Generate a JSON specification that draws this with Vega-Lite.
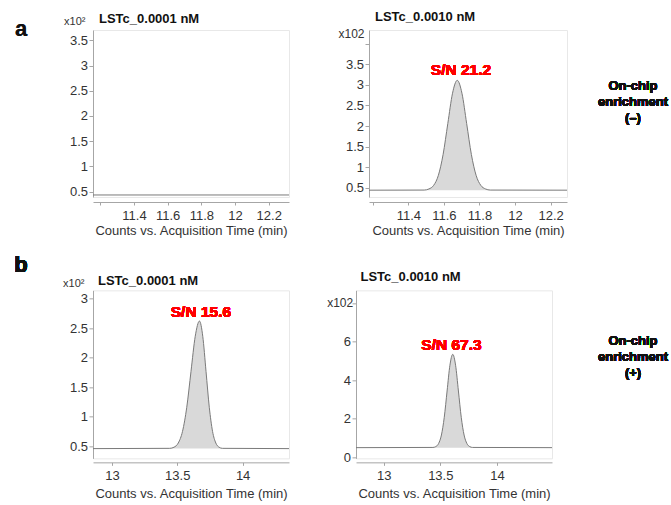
{
  "$schema": "https://vega.github.io/schema/vega-lite/v6.json",
  "padding": {"left": 13, "top": 10, "right": 2, "bottom": 2},
  "spacing": 15.35,
  "config": {
    "font": "Liberation Sans",
    "view": {"stroke": "#e8e8e8"},
    "axis": {
      "grid": false,
      "domainColor": "#a6a6a6",
      "tickColor": "#a6a6a6",
      "labelColor": "#333333",
      "titleColor": "#333333",
      "labelFontSize": 13,
      "titleFontSize": 13,
      "titleFontWeight": "normal",
      "labelFlush": false,
      "labelOverlap": false,
      "labelFont": "Liberation Sans",
      "titleFont": "Liberation Sans"
    },
    "axisX": {"tickSize": 3, "labelPadding": 4.3, "titlePadding": 2.2},
    "axisY": {"tickSize": 4, "labelPadding": 1.5},
    "title": {"fontSize": 13, "fontWeight": "bold", "anchor": "start", "frame": "group", "color": "#111111", "font": "Liberation Sans"},
    "text": {"font": "Liberation Sans"}
  },
  "vconcat": [
    {
      "hconcat": [
        {
          "width": 196,
          "height": 167,
          "title": {"text": "LSTc_0.0001 nM", "offset": -10.25, "dx": 6},
          "data": {"values": [{"t": 11.157, "c": 0.435}, {"t": 12.32, "c": 0.435}]},
          "encoding": {
            "x": {"field": "t", "type": "quantitative", "title": "Counts vs. Acquisition Time (min)",
              "scale": {"domain": [11.157, 12.32], "nice": false, "zero": false},
              "axis": {"values": [11.2, 11.4, 11.6, 11.8, 12, 12.2], "labelExpr": "datum.value < 11.3 ? '' : '' + datum.value", "offset": 5}},
            "y": {"field": "c", "type": "quantitative", "title": "x10²",
              "scale": {"domain": [0.395, 3.704], "nice": false, "zero": false},
              "axis": {"values": [0.5, 1, 1.5, 2, 2.5, 3, 3.5], "labelExpr": "'' + datum.value", "titleAngle": 0, "titleX": -8, "titleY": -8.1, "titleAlign": "right", "titleBaseline": "middle", "titleFontSize": 11}}
          },
          "layer": [
            {"mark": {"type": "area", "interpolate": "monotone", "fill": "#d9d9d9"}, "encoding": {"y2": {"datum": 0.435}}},
            {"mark": {"type": "line", "interpolate": "monotone", "stroke": "#7a7a7a", "strokeWidth": 1}},
            {"mark": {"type": "text", "fontSize": 22, "fontWeight": "bold", "fill": "#111111", "strokeOpacity": 0, "align": "center", "baseline": "alphabetic"},
              "encoding": {"x": {"datum": 10.73}, "y": {"datum": 3.585}, "text": {"value": "a"}}}
          ]
        },
        {
          "width": 198,
          "height": 167,
          "title": {"text": "LSTc_0.0010 nM", "offset": 3.05, "dx": 6},
          "data": {"values": [
            {"t": 11.179, "c": 0.44}, {"t": 11.4895, "c": 0.443}, {"t": 11.516, "c": 0.47}, {"t": 11.5425, "c": 0.557},
            {"t": 11.569, "c": 0.801}, {"t": 11.5955, "c": 1.307}, {"t": 11.622, "c": 2.059}, {"t": 11.6485, "c": 2.796},
            {"t": 11.675, "c": 3.11}, {"t": 11.7015, "c": 2.796}, {"t": 11.728, "c": 2.059}, {"t": 11.7545, "c": 1.307},
            {"t": 11.781, "c": 0.801}, {"t": 11.8075, "c": 0.557}, {"t": 11.834, "c": 0.47}, {"t": 11.8605, "c": 0.443},
            {"t": 12.292, "c": 0.44}
          ]},
          "encoding": {
            "x": {"field": "t", "type": "quantitative", "title": "Counts vs. Acquisition Time (min)",
              "scale": {"domain": [11.179, 12.292], "nice": false, "zero": false},
              "axis": {"values": [11.2, 11.4, 11.6, 11.8, 12, 12.2], "labelExpr": "datum.value < 11.3 ? '' : '' + datum.value", "offset": 5}},
            "y": {"field": "c", "type": "quantitative", "title": "x102",
              "scale": {"domain": [0.274, 4.334], "nice": false, "zero": false},
              "axis": {"values": [0.5, 1, 1.5, 2, 2.5, 3, 3.5, 4], "labelExpr": "datum.value > 3.9 ? '' : '' + datum.value", "titleAngle": 0, "titleX": -5, "titleY": 3, "titleAlign": "right", "titleBaseline": "middle", "titleFontSize": 12}}
          },
          "layer": [
            {"mark": {"type": "area", "interpolate": "monotone", "fill": "#d9d9d9"}, "encoding": {"y2": {"datum": 0.44}}},
            {"mark": {"type": "line", "interpolate": "monotone", "stroke": "#7a7a7a", "strokeWidth": 1}},
            {"mark": {"type": "text", "fontSize": 15.5, "fontWeight": "bold", "fill": "#ff0000", "strokeOpacity": 0, "align": "center", "baseline": "middle"},
              "encoding": {"x": {"datum": 11.696}, "y": {"datum": 3.359}, "text": {"value": "S/N 21.2"}}},
            {"mark": {"type": "text", "fontSize": 13, "fontWeight": "bold", "fill": "#111111", "strokeOpacity": 0, "align": "center", "baseline": "middle", "lineHeight": 16},
              "encoding": {"x": {"datum": 12.663}, "y": {"datum": 2.981}, "text": {"value": ["On-chip", "enrichment", "(–)"]}}}
          ]
        }
      ],
      "spacing": 80,
      "bounds": "flush"
    },
    {
      "hconcat": [
        {
          "width": 196,
          "height": 168,
          "title": {"text": "LSTc_0.0001 nM", "offset": -33.15, "dx": 5},
          "data": {"values": [
            {"t": 12.855, "c": 0.456}, {"t": 13.4425, "c": 0.461}, {"t": 13.475, "c": 0.48}, {"t": 13.5075, "c": 0.551},
            {"t": 13.54, "c": 0.748}, {"t": 13.5725, "c": 1.157}, {"t": 13.605, "c": 1.766}, {"t": 13.6375, "c": 2.362},
            {"t": 13.67, "c": 2.62}, {"t": 13.695, "c": 2.362}, {"t": 13.72, "c": 1.766}, {"t": 13.745, "c": 1.157},
            {"t": 13.77, "c": 0.748}, {"t": 13.795, "c": 0.551}, {"t": 13.82, "c": 0.48}, {"t": 13.845, "c": 0.461},
            {"t": 14.355, "c": 0.456}
          ]},
          "encoding": {
            "x": {"field": "t", "type": "quantitative", "title": "Counts vs. Acquisition Time (min)",
              "scale": {"domain": [12.855, 14.355], "nice": false, "zero": false},
              "axis": {"values": [13, 13.5, 14], "labelExpr": "'' + datum.value", "offset": 4, "titlePadding": 4.5}},
            "y": {"field": "c", "type": "quantitative", "title": "x10²",
              "scale": {"domain": [0.291, 3.141], "nice": false, "zero": false},
              "axis": {"values": [0.5, 1, 1.5, 2, 2.5, 3], "labelExpr": "'' + datum.value", "titleAngle": 0, "titleX": -9, "titleY": -7.1, "titleAlign": "right", "titleBaseline": "middle", "titleFontSize": 11}}
          },
          "layer": [
            {"mark": {"type": "area", "interpolate": "monotone", "fill": "#d9d9d9"}, "encoding": {"y2": {"datum": 0.456}}},
            {"mark": {"type": "line", "interpolate": "monotone", "stroke": "#7a7a7a", "strokeWidth": 1}},
            {"mark": {"type": "text", "fontSize": 15.5, "fontWeight": "bold", "fill": "#ff0000", "strokeOpacity": 0, "align": "center", "baseline": "middle"},
              "encoding": {"x": {"datum": 13.681}, "y": {"datum": 2.778}, "text": {"value": "S/N 15.6"}}},
            {"mark": {"type": "text", "fontSize": 22, "fontWeight": "bold", "fill": "#111111", "strokeOpacity": 0, "align": "center", "baseline": "alphabetic"},
              "encoding": {"x": {"datum": 12.304}, "y": {"datum": 3.446}, "text": {"value": "b"}}}
          ]
        },
        {
          "width": 196,
          "height": 168,
          "title": {"text": "LSTc_0.0010 nM", "offset": 6.85, "dx": 4.5},
          "data": {"values": [
            {"t": 12.756, "c": 0.494}, {"t": 13.435, "c": 0.505}, {"t": 13.46, "c": 0.548}, {"t": 13.485, "c": 0.707},
            {"t": 13.51, "c": 1.15}, {"t": 13.535, "c": 2.069}, {"t": 13.56, "c": 3.436}, {"t": 13.585, "c": 4.774},
            {"t": 13.61, "c": 5.34}, {"t": 13.635, "c": 4.774}, {"t": 13.66, "c": 3.436}, {"t": 13.685, "c": 2.069},
            {"t": 13.71, "c": 1.15}, {"t": 13.735, "c": 0.707}, {"t": 13.76, "c": 0.548}, {"t": 13.785, "c": 0.505},
            {"t": 14.486, "c": 0.494}
          ]},
          "encoding": {
            "x": {"field": "t", "type": "quantitative", "title": "Counts vs. Acquisition Time (min)",
              "scale": {"domain": [12.756, 14.486], "nice": false, "zero": false},
              "axis": {"values": [13, 13.5, 14], "labelExpr": "'' + datum.value", "offset": 4, "titlePadding": 4.5}},
            "y": {"field": "c", "type": "quantitative", "title": "x102",
              "scale": {"domain": [-0.062, 8.665], "nice": false, "zero": false},
              "axis": {"values": [0, 2, 4, 6, 8], "labelExpr": "datum.value > 7 ? '' : '' + datum.value", "titleAngle": 0, "titleX": -3.3, "titleY": 12.1, "titleAlign": "right", "titleBaseline": "middle", "titleFontSize": 12}}
          },
          "layer": [
            {"mark": {"type": "area", "interpolate": "monotone", "fill": "#d9d9d9"}, "encoding": {"y2": {"datum": 0.494}}},
            {"mark": {"type": "line", "interpolate": "monotone", "stroke": "#7a7a7a", "strokeWidth": 1}},
            {"mark": {"type": "text", "fontSize": 15.5, "fontWeight": "bold", "fill": "#ff0000", "strokeOpacity": 0, "align": "center", "baseline": "middle"},
              "encoding": {"x": {"datum": 13.599}, "y": {"datum": 5.839}, "text": {"value": "S/N 67.3"}}},
            {"mark": {"type": "text", "fontSize": 13, "fontWeight": "bold", "fill": "#111111", "strokeOpacity": 0, "align": "center", "baseline": "middle", "lineHeight": 16},
              "encoding": {"x": {"datum": 15.201}, "y": {"datum": 6.034}, "text": {"value": ["On-chip", "enrichment", "(+)"]}}}
          ]
        }
      ],
      "spacing": 67,
      "bounds": "flush"
    }
  ]
}
